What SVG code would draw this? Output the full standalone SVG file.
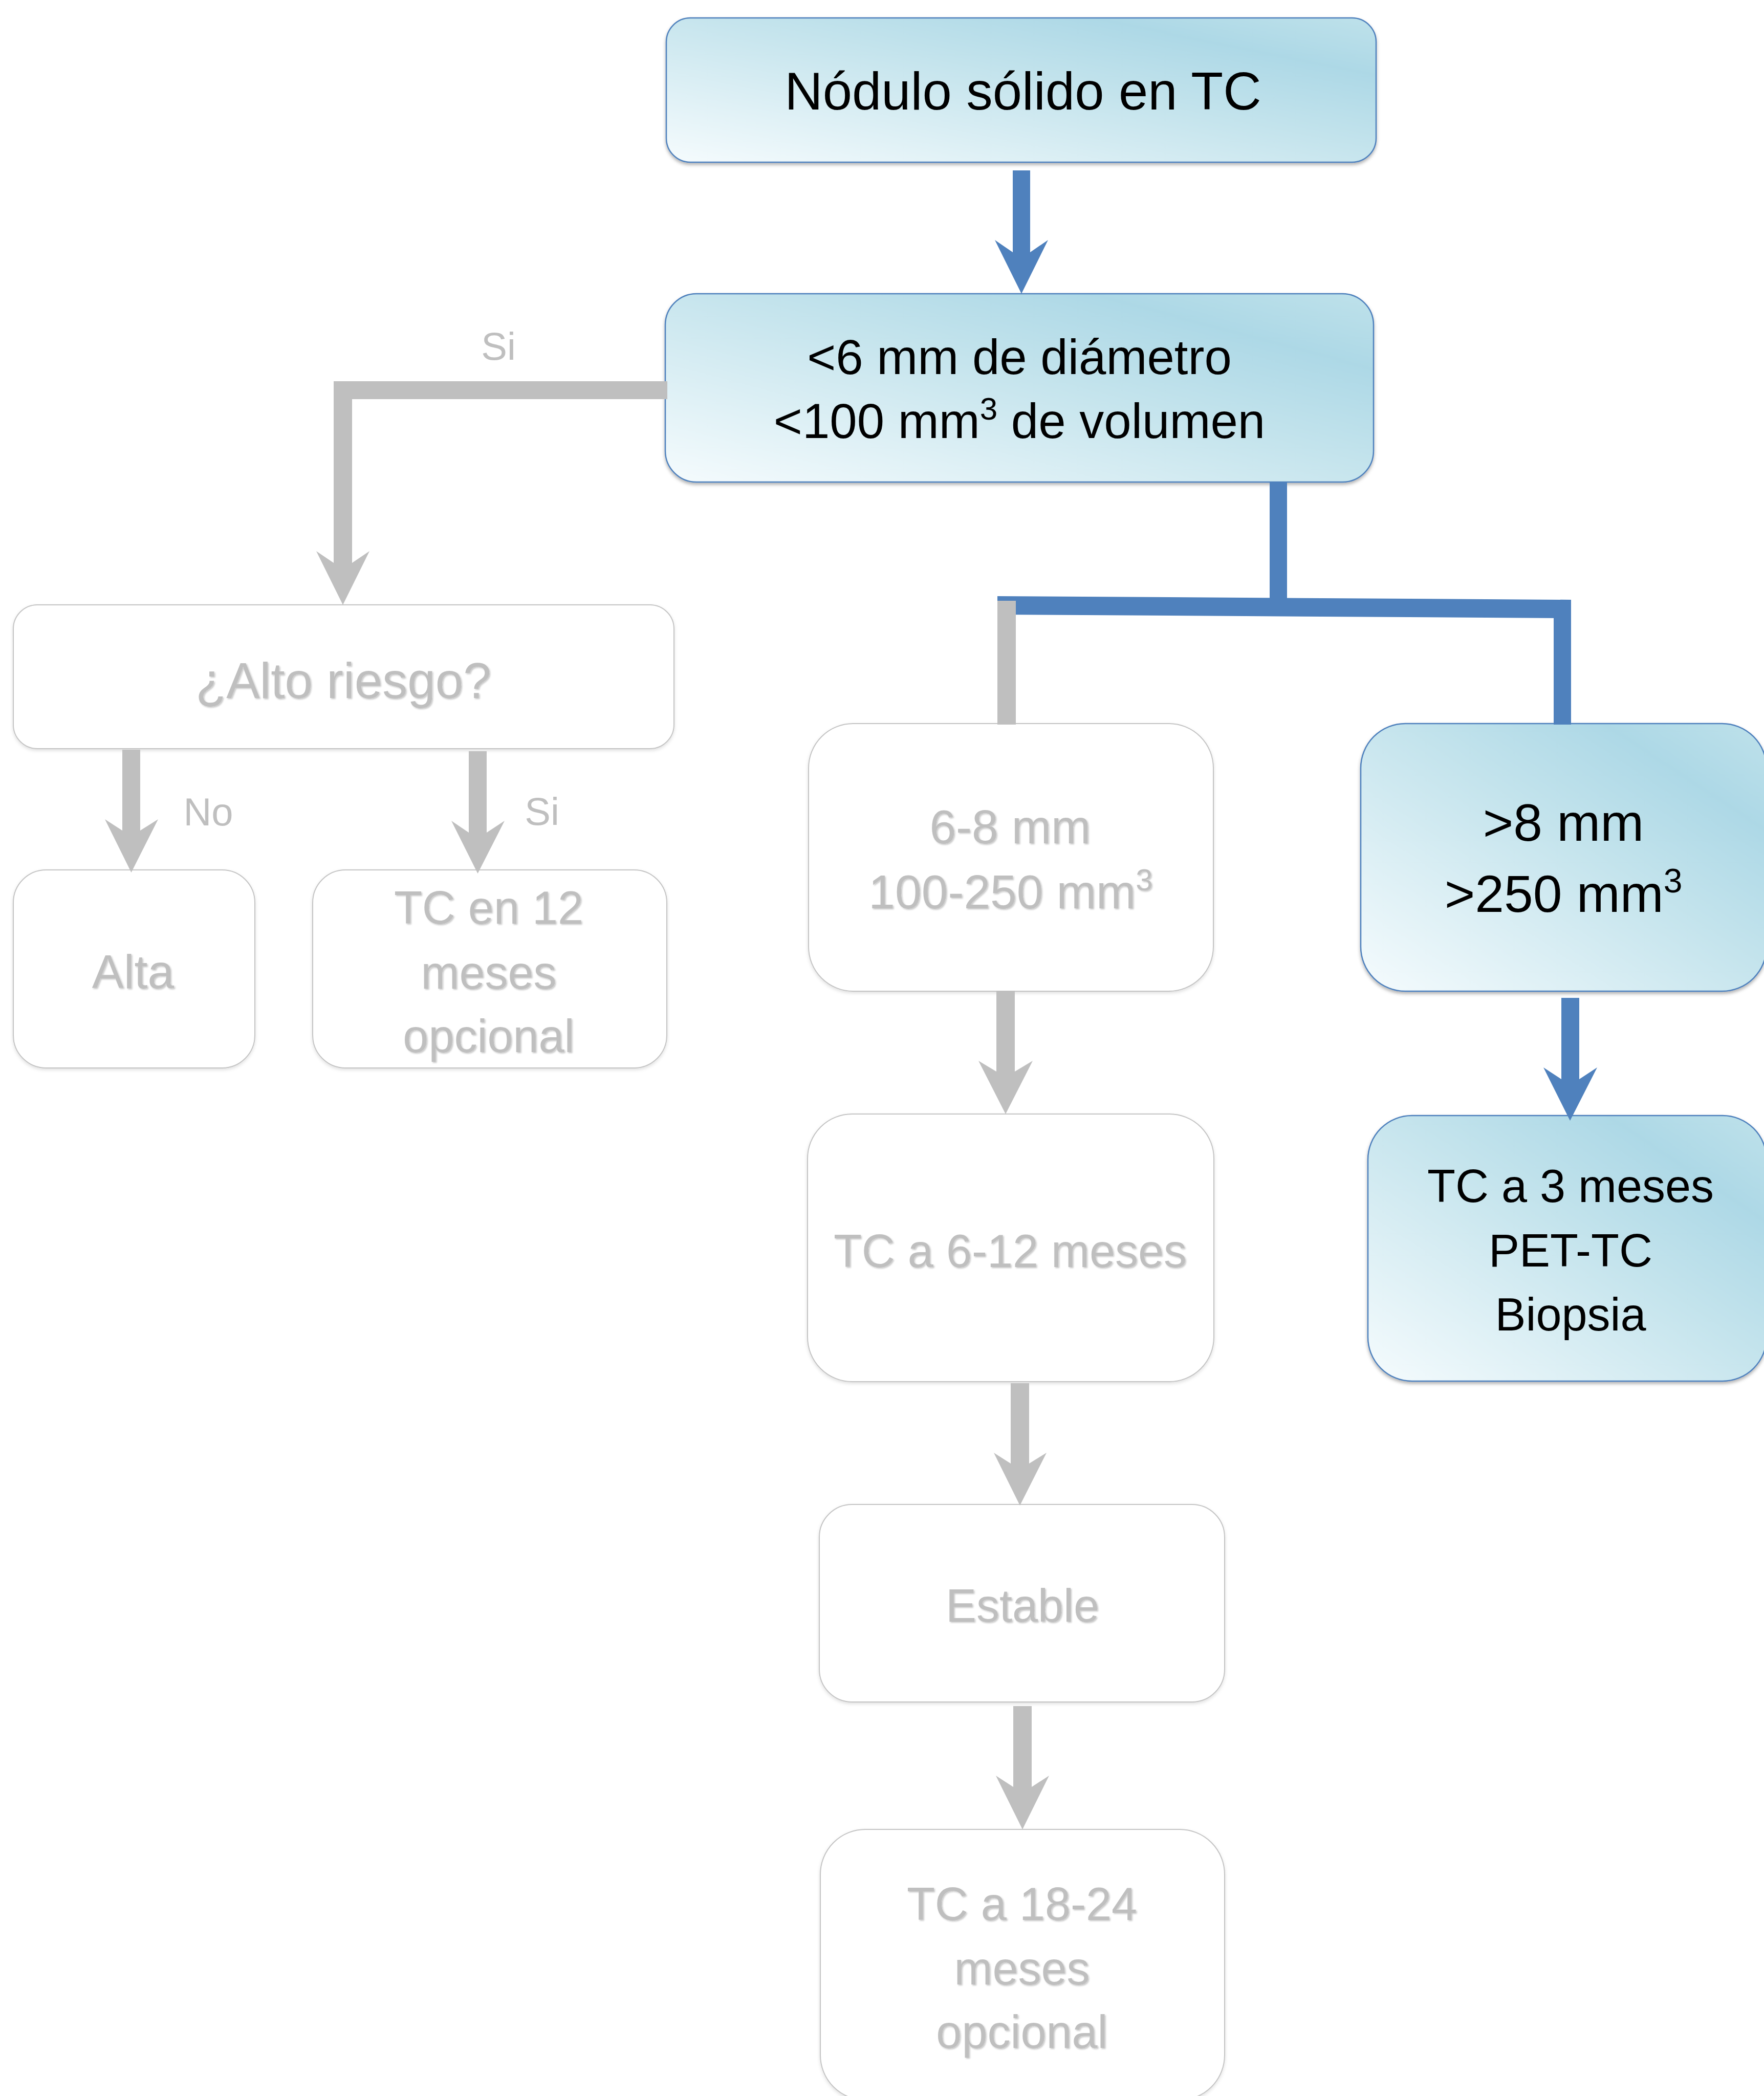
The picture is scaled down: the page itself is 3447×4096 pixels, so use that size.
<svg xmlns="http://www.w3.org/2000/svg" width="3447" height="4096" viewBox="0 0 3447 4096">
<defs>
<linearGradient id="blueFill" x1="0" y1="1" x2="1" y2="0">
<stop offset="0" stop-color="#F5FBFD"/>
<stop offset="0.55" stop-color="#C3E3EC"/>
<stop offset="0.8" stop-color="#ADD8E6"/>
<stop offset="1" stop-color="#BEE1EA"/>
</linearGradient>
<filter id="shBlue" x="-5%" y="-5%" width="110%" height="115%">
<feDropShadow dx="0" dy="4" stdDeviation="3" flood-color="#000" flood-opacity="0.3"/>
</filter>
<filter id="shGray" x="-5%" y="-5%" width="110%" height="115%">
<feDropShadow dx="0" dy="3" stdDeviation="3" flood-color="#000" flood-opacity="0.12"/>
</filter>
<filter id="shText" x="-5%" y="-10%" width="110%" height="130%">
<feDropShadow dx="2" dy="2" stdDeviation="1.5" flood-color="#000" flood-opacity="0.22"/>
</filter>
</defs>
<style>
.bbox{fill:url(#blueFill);stroke:#4F81BD;stroke-width:2.5;filter:url(#shBlue)}
.gbox{fill:#FFFFFF;stroke:#C4C4C4;stroke-width:2;filter:url(#shGray)}
.t{font-family:'Liberation Sans',Arial,sans-serif;text-anchor:middle}
.tb{fill:#000000}
.tg{fill:#BFBFBF;filter:url(#shText)}
.lbl{font-family:'Liberation Sans',Arial,sans-serif;text-anchor:middle;fill:#BFBFBF;font-size:76px}
.blue{fill:#4F81BD}
.gray{fill:#BFBFBF}
</style>
<rect width="3447" height="4096" fill="#FFFFFF"/>

<g id="node-nodulo">
<rect class="bbox" x="1302" y="35" width="1387" height="282" rx="47" ry="47"/>
<text class="t tb" x="1999" y="214" font-size="103">Nódulo sólido en TC</text>
</g>

<g id="node-menor6">
<rect class="bbox" x="1300" y="574" width="1384" height="368" rx="61" ry="61"/>
<text class="t tb" x="1992" y="731" font-size="96">&lt;6 mm de diámetro</text>
<text class="t tb" x="1992" y="856" font-size="96">&lt;100 mm<tspan font-size="62" dy="-36">3</tspan><tspan dy="36"> de volumen</tspan></text>
</g>

<g id="node-altoriesgo">
<rect class="gbox" x="26" y="1182" width="1291" height="281" rx="47" ry="47"/>
<text class="t tg" x="671" y="1364" font-size="98">¿Alto riesgo?</text>
</g>

<g id="node-alta">
<rect class="gbox" x="26" y="1700" width="472" height="387" rx="64" ry="64"/>
<text class="t tg" x="260" y="1931" font-size="93">Alta</text>
</g>

<g id="node-tc12">
<rect class="gbox" x="611" y="1700" width="692" height="387" rx="64" ry="64"/>
<text class="t tg" x="955" y="1805" font-size="90">TC en 12</text>
<text class="t tg" x="955" y="1932" font-size="90">meses</text>
<text class="t tg" x="955" y="2056" font-size="90">opcional</text>
</g>

<g id="node-6a8">
<rect class="gbox" x="1580" y="1414" width="791" height="523" rx="87" ry="87"/>
<text class="t tg" x="1974" y="1648" font-size="93">6-8 mm</text>
<text class="t tg" x="1975" y="1775" font-size="93">100-250 mm<tspan font-size="60" dy="-35">3</tspan></text>
</g>

<g id="node-mayor8">
<rect class="bbox" x="2659" y="1414" width="793" height="523" rx="87" ry="87"/>
<text class="t tb" x="3055" y="1643" font-size="102">&gt;8 mm</text>
<text class="t tb" x="3055" y="1782" font-size="102">&gt;250 mm<tspan font-size="66" dy="-38">3</tspan></text>
</g>

<g id="node-tc612">
<rect class="gbox" x="1578" y="2177" width="794" height="523" rx="87" ry="87"/>
<text class="t tg" x="1974" y="2476" font-size="90">TC a 6-12 meses</text>
</g>

<g id="node-tc3">
<rect class="bbox" x="2673" y="2180" width="779" height="519" rx="86" ry="86"/>
<text class="t tb" x="3069" y="2349" font-size="90">TC a 3 meses</text>
<text class="t tb" x="3069" y="2475" font-size="90">PET-TC</text>
<text class="t tb" x="3069" y="2600" font-size="90">Biopsia</text>
</g>

<g id="node-estable">
<rect class="gbox" x="1601" y="2940" width="792" height="386" rx="64" ry="64"/>
<text class="t tg" x="1998" y="3169" font-size="90">Estable</text>
</g>

<g id="node-tc1824">
<rect class="gbox" x="1603" y="3575" width="790" height="529" rx="88" ry="88"/>
<text class="t tg" x="1997" y="3752" font-size="90">TC a 18-24</text>
<text class="t tg" x="1997" y="3878" font-size="90">meses</text>
<text class="t tg" x="1997" y="4002" font-size="90">opcional</text>
</g>

<g id="connectors">
<polygon class="blue" points="1979,333 1979,493 1944,469 1996,574 2048,469 2013,493 2013,333"/>
<rect class="gray" x="652" y="745" width="652" height="35"/>
<polygon class="gray" points="652,762 652,1100 618,1077 670,1182 722,1077 688,1100 688,762"/>
<text class="lbl" x="974" y="703">Si</text>
<polygon class="gray" points="239,1465 239,1623 205,1601 256.5,1705 309,1601 274,1623 274,1465"/>
<text class="lbl" x="407" y="1613">No</text>
<polygon class="gray" points="916,1468 916,1627 882,1604 933.5,1707 986,1604 951,1627 951,1468"/>
<text class="lbl" x="1059" y="1612">Si</text>
<rect class="blue" x="2481" y="942" width="34" height="244"/>
<polygon class="blue" points="1949,1165 3070,1172 3070,1208 1949,1201"/>
<rect class="blue" x="3036" y="1172" width="34" height="244"/>
<rect class="gray" x="1949" y="1174" width="36" height="242"/>
<polygon class="gray" points="1947,1936 1947,2094 1912,2073 1965,2177 2018,2073 1983,2094 1983,1936"/>
<polygon class="gray" points="1975,2703 1975,2860 1942,2839 1993,2942 2045,2839 2011,2860 2011,2703"/>
<polygon class="gray" points="1980,3334 1980,3492 1946,3470 1998,3575 2050,3470 2016,3492 2016,3334"/>
<polygon class="blue" points="3051,1950 3051,2109 3016,2086 3068,2190 3121,2086 3086,2109 3086,1950"/>
</g>
</svg>
